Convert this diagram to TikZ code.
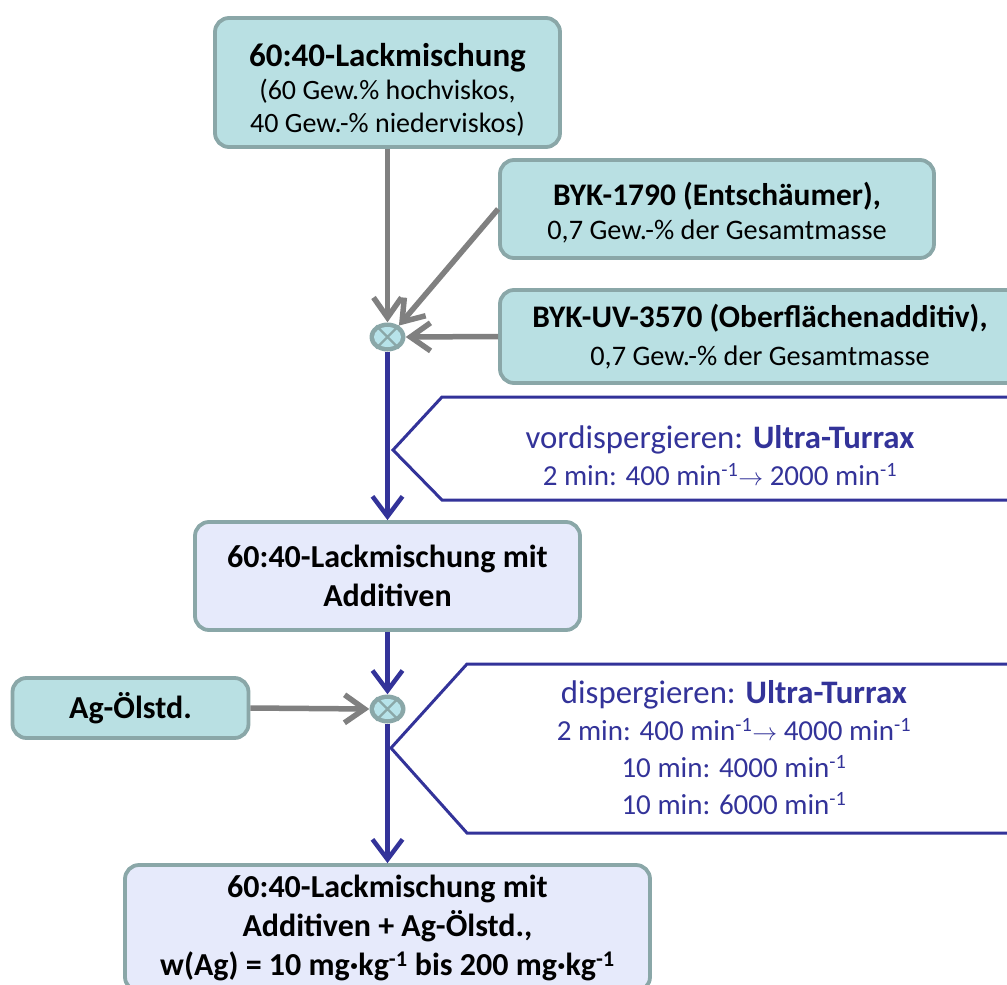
\documentclass[tikz,border=0pt]{standalone}
\usepackage{fontspec}
\setmainfont{Carlito}
\usetikzlibrary{arrows.meta,positioning,shapes.geometric}
\definecolor{boxteal}{HTML}{B9E0E3}
\definecolor{boxlav}{HTML}{E6EAFB}
\definecolor{boxedge}{HTML}{8AA7A8}
\definecolor{mixcyan}{HTML}{B7E3EA}
\definecolor{flowgray}{HTML}{808080}
\definecolor{flowblue}{HTML}{333399}
\newcommand\ttl[2][32]{{\bfseries\fontsize{#1}{39}\selectfont #2}}
\newcommand\hdl[1]{{\fontsize{32.8}{37}\selectfont #1}}
\newcommand\perm{min\textsuperscript{-1}}
\newcommand\lift[1]{\rule{0pt}{#1}} % taller first line, moves text down
\tikzset{
  box/.style={rounded corners=14pt,line width=3.8pt,draw=boxedge,align=center,
    inner sep=0pt,text=black,font=\fontsize{28.3}{33}\selectfont},
  box teal/.style={box,fill=boxteal},
  box lav/.style={box,fill=boxlav,font=\bfseries\fontsize{32}{39}\selectfont},
  mixer/.style={ellipse,fill=boxedge,minimum width=36pt,minimum height=29pt,inner sep=0pt},
  feed/.style={line width=5.5pt,flowgray,-{Straight Barb[length=20pt,width=28pt]}},
  flow/.style={line width=4.5pt,flowblue,-{Straight Barb[length=20pt,width=30pt]}},
  stage/.style={line width=3pt,flowblue,line join=miter},
  stage text/.style={align=center,text=flowblue,font=\fontsize{29}{37}\selectfont}
}
\begin{document}
\begin{tikzpicture}[x=1pt,y=-1pt]
\useasboundingbox (0,0) rectangle (1007,985);
\clip (0,0) rectangle (1007,985);
% input boxes
\node[box teal,font=\fontsize{28}{33}\selectfont,minimum width=345,minimum height=129] (lack) at (387.5,82.5)
  {\ttl[33]{\lift{37pt}60:40-Lackmischung}\\ (60 Gew.\% hochviskos,\\ 40 Gew.-\% niederviskos)};
\node[box teal,minimum width=434,minimum height=98] (byk1) at (717,209)
  {\ttl[31.4]{\lift{31pt}BYK-1790 (Entschäumer),}\\[1.5pt] 0,7 Gew.-\% der Gesamtmasse};
\node[box teal,minimum width=520,minimum height=93] (byk2) at (760,336.5)
  {\ttl[31.4]{BYK-UV-3570 (Oberflächenadditiv),}\\[5pt] 0,7 Gew.-\% der Gesamtmasse};
\node[box teal,minimum width=236,minimum height=60] (ag) at (130.5,708) {\ttl{Ag-Ölstd.}};
% mixers
\node[mixer] (mix1) at (387.5,337) {};
\node[mixer] (mix2) at (387.5,709) {};
\foreach \M in {mix1,mix2}
{\fill[mixcyan] (\M) ellipse (13.5pt and 10pt);
 \draw[boxedge,line width=2.2pt] (\M.45) -- (\M.225) (\M.135) -- (\M.315);}
% intermediate and product
\node[box lav,minimum width=385,minimum height=108] (lackadd) at (387.5,576)
  {60:40-Lackmischung mit\\ Additiven};
\node[box lav,minimum width=525,minimum height=126] (lackag) at (387.5,928)
  {60:40-Lackmischung mit\\ Additiven + Ag-Ölstd.,\\
   w(Ag) = 10 mg·kg\textsuperscript{-1} bis 200 mg·kg\textsuperscript{-1}};
% process steps
\draw[stage] (1015,397) -- (442,397) -- (393,450) -- (442,500) -- (1015,500);
\node[stage text] (vordisp) at (720,456)
  {\hdl{vordispergieren: \textbf{Ultra-Turrax}}\\
   2 min: 400 \perm$\rightarrow$ 2000 \perm};
\draw[stage] (1015,664) -- (467,664) -- (391,748) -- (467,833) -- (1015,833);
\node[stage text] (disp) at (734,748)
  {\hdl{dispergieren: \textbf{Ultra-Turrax}}\\
   2 min: 400 \perm$\rightarrow$ 4000 \perm\\
   10 min: 4000 \perm\\ 10 min: 6000 \perm};
% connectors
\draw[feed] (lack.south -| mix1) -- (mix1.north);
\draw[feed] (byk1.west) -- (mix1.45);
\draw[feed] (byk2.west) -- (mix1.east);
\draw[feed] (ag.east) -- (mix2.west);
\draw[flow] (mix1.south) -- (lackadd.north -| mix1);
\draw[flow] (lackadd.south -| mix2) -- (mix2.north);
\draw[flow] (mix2.south) -- (lackag.north -| mix2);
\end{tikzpicture}
\end{document}
